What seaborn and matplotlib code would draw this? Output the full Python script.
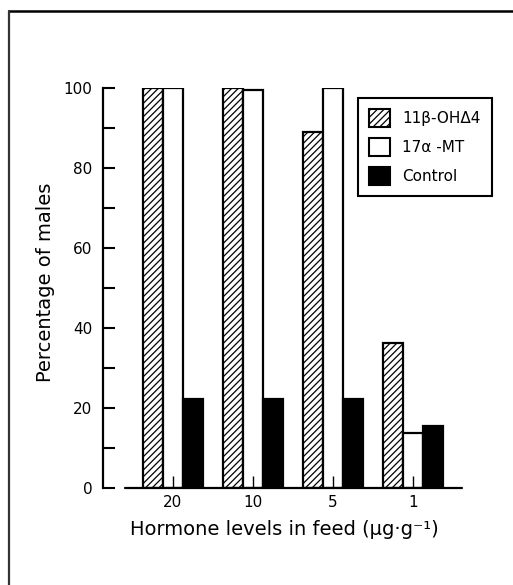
import matplotlib
matplotlib.use("Agg")
import matplotlib.pyplot as plt
import matplotlib.patches as mpatches
from matplotlib.lines import Line2D
import seaborn as sns
import pandas as pd

# Hormone levels in feed (µg/g) and treatments
levels = ["20", "10", "5", "1"]
treatments = ["11β-OHΔ4", "17α -MT", "Control"]

# Percentage of males per treatment at each level
pct_ohd4 = [100, 100, 88.9, 36.2]
pct_mt = [100, 99.5, 100, 13.8]
pct_control = [22.2, 22.2, 22.2, 15.6]

yticks_major = [0, 20, 40, 60, 80, 100]
yticks_minor = [10, 30, 50, 70, 90]

df = pd.DataFrame({
    "level": levels * 3,
    "treatment": [t for t in treatments for _ in levels],
    "pct": pct_ohd4 + pct_mt + pct_control,
})

sns.set_style("ticks")
plt.rcParams["font.family"] = ["DejaVu Sans"]
plt.rcParams["hatch.linewidth"] = 0.9
plt.rcParams["hatch.color"] = "black"
for key in ("text.color", "axes.labelcolor", "xtick.color", "ytick.color",
            "xtick.labelcolor", "ytick.labelcolor"):
    plt.rcParams[key] = "black"

W, H = 513, 585
fig = plt.figure(figsize=(W / 100, H / 100), dpi=100)
fig.patch.set_facecolor("white")

# axes box in pixel terms: left spine x=103, y range 88..488
ax_l, ax_r, ax_t, ax_b = 103, 462, 88, 488.3
ax = fig.add_axes([ax_l / W, 1 - ax_b / H, (ax_r - ax_l) / W, (ax_b - ax_t) / H])

fills = {"11β-OHΔ4": "white", "17α -MT": "white", "Control": "black"}
sns.barplot(data=df, x="level", y="pct", hue="treatment",
            order=levels, hue_order=treatments, palette=fills,
            width=0.76, edgecolor="black", linewidth=1.6,
            saturation=1, legend=False, ax=ax, zorder=2)

for bar in ax.containers[0]:
    bar.set_hatch("/////")

ax.set_ylim(0, 100)
ax.set_xlim(-0.875, 3.6125)

for s in ("top", "right", "bottom"):
    ax.spines[s].set_visible(False)
ax.spines["left"].set_linewidth(1.6)
ax.spines["left"].set_color("black")

# detached baseline for the category axis
ax.axhline(0, xmin=(125 - ax_l) / (ax_r - ax_l), xmax=1.0,
           color="black", lw=1.6, clip_on=False, zorder=3)

ax.set_yticks(yticks_major)
ax.set_yticks(yticks_minor, minor=True)
ax.set_yticklabels([str(v) for v in yticks_major])
ax.tick_params(axis="y", which="both", direction="in", length=8.5,
               width=1.5, color="black", pad=7.5, labelsize=11,
               labelcolor="black")
ax.tick_params(axis="x", which="major", direction="in", length=8.5,
               width=1.0, color="black", pad=5, labelsize=11,
               labelcolor="black")
ax.set_axisbelow(False)

ax.set_xlabel("Hormone levels in feed (μg·g⁻¹)", fontsize=14, color="black")
ax.set_ylabel("Percentage of males", fontsize=14, color="black")
ax.xaxis.set_label_coords(0.504, -0.078)
ax.yaxis.set_label_coords(-0.135, 0.514)

handles = [
    mpatches.Patch(facecolor="white", edgecolor="black", hatch="/////", linewidth=1.5),
    mpatches.Patch(facecolor="white", edgecolor="black", linewidth=1.5),
    mpatches.Patch(facecolor="black", edgecolor="black", linewidth=1.5),
]
leg = ax.legend(handles, treatments, loc="upper left",
                bbox_to_anchor=(0.7103, 0.975), borderaxespad=0,
                fontsize=11, handlelength=1.37, handleheight=1.44,
                labelspacing=0.72, borderpad=0.72, handletextpad=0.8,
                fancybox=False, framealpha=1, edgecolor="black")
leg.get_frame().set_linewidth(1.5)
for t in leg.get_texts():
    t.set_color("black")

# outer frame lines along the top and left edges
fig.add_artist(Line2D([9 / W, 1.0], [1 - 11 / H, 1 - 11 / H],
                      transform=fig.transFigure, color="black", lw=1.8))
fig.add_artist(Line2D([9 / W, 9 / W], [0.0, 1 - 11 / H],
                      transform=fig.transFigure, color="#333333", lw=1.6))

fig.savefig("out.png", dpi=100, facecolor="white")
